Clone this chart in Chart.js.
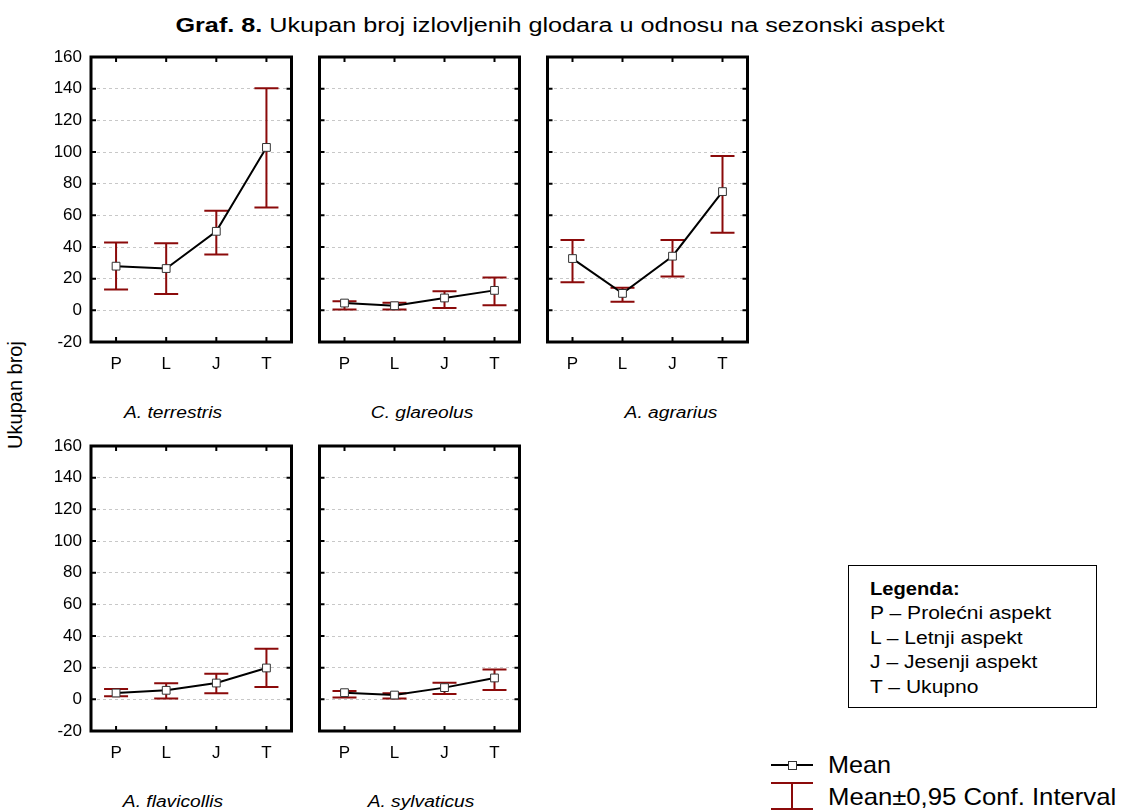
<!DOCTYPE html>
<html>
<head>
<meta charset="utf-8">
<script src="https://cdn.jsdelivr.net/npm/chart.js@4.4.0/dist/chart.umd.min.js"></script>
<style>
  body { margin: 0; background: #fff; width: 1121px; height: 811px; position: relative; overflow: hidden;
         font-family: "Liberation Sans", Arial, sans-serif; color: #000; }
  canvas { position: absolute; }
  .c { position: absolute; white-space: nowrap; transform: translate(-50%, -50%) scaleX(1.2); }
  .l { position: absolute; white-space: nowrap; transform-origin: left center; }
  .sp { font-style: italic; font-size: 16px; }
</style>
</head>
<body>

<div class="c" style="left:560px;top:25px;font-size:20px;transform:translate(-50%,-50%) scaleX(1.26)"><b>Graf. 8.</b> Ukupan broj izlovljenih glodara u odnosu na sezonski aspekt</div>
<div class="c" style="left:15px;top:395px;font-size:20px;transform:translate(-50%,-50%) rotate(-90deg)">Ukupan broj</div>

<div class="c sp" style="left:173px;top:413px">A. terrestris</div>
<div class="c sp" style="left:422px;top:413px">C. glareolus</div>
<div class="c sp" style="left:671px;top:413px">A. agrarius</div>
<div class="c sp" style="left:173px;top:802px">A. flavicollis</div>
<div class="c sp" style="left:421px;top:802px">A. sylvaticus</div>

<div style="position:absolute;left:848px;top:565px;width:247px;height:141px;border:1.5px solid #000"></div>
<div class="l" style="left:870px;top:589px;font-size:18px;font-weight:bold;transform:translateY(-50%) scaleX(1.12)">Legenda:</div>
<div class="l" style="left:870px;top:613px;font-size:18px;transform:translateY(-50%) scaleX(1.17)">P – Prolećni aspekt</div>
<div class="l" style="left:870px;top:638px;font-size:18px;transform:translateY(-50%) scaleX(1.17)">L – Letnji aspekt</div>
<div class="l" style="left:870px;top:662px;font-size:18px;transform:translateY(-50%) scaleX(1.17)">J – Jesenji aspekt</div>
<div class="l" style="left:870px;top:687px;font-size:18px;transform:translateY(-50%) scaleX(1.17)">T – Ukupno</div>

<div style="position:absolute;left:771px;top:764px;width:42px;height:2px;background:#000"></div>
<div style="position:absolute;left:788px;top:761px;width:7px;height:7px;background:#fff;border:1px solid #333"></div>
<div class="l" style="left:828px;top:765px;font-size:24px;transform:translateY(-50%) scaleX(1.05)">Mean</div>
<div style="position:absolute;left:771px;top:782px;width:42px;height:2px;background:#8b0a0a"></div>
<div style="position:absolute;left:791px;top:782px;width:2px;height:28px;background:#8b0a0a"></div>
<div style="position:absolute;left:771px;top:808px;width:42px;height:2px;background:#8b0a0a"></div>
<div class="l" style="left:828px;top:797px;font-size:24px;transform:translateY(-50%) scaleX(1.07)">Mean±0,95 Conf. Interval</div>

<script>
// categories (seasonal aspect)
const categories = ['P', 'L', 'J', 'T'];

// y axis
const yMin = -20;
const yMax = 160;
const yStep = 20;

// A. terrestris
const terrestrisMean = [27.9, 26.4, 49.9, 102.9];
const terrestrisLow  = [13.2, 10.3, 35.2, 65.0];
const terrestrisHigh = [42.8, 42.3, 62.9, 140.3];

// C. glareolus
const glareolusMean = [4.6, 2.9, 7.8, 12.6];
const glareolusLow  = [0.6, 0.6, 1.5, 3.2];
const glareolusHigh = [5.7, 4.8, 12.0, 20.8];

// A. agrarius
const agrariusMean = [32.7, 10.7, 34.2, 75.0];
const agrariusLow  = [17.8, 5.5, 21.4, 49.0];
const agrariusHigh = [44.4, 14.3, 44.4, 97.5];

// A. flavicollis
const flavicollisMean = [4.0, 5.7, 10.3, 19.8];
const flavicollisLow  = [1.9, 0.6, 3.8, 7.8];
const flavicollisHigh = [6.5, 10.1, 16.2, 32.0];

// A. sylvaticus
const sylvaticusMean = [4.2, 2.7, 7.4, 13.5];
const sylvaticusLow  = [1.1, 0.6, 3.4, 5.9];
const sylvaticusHigh = [5.3, 3.8, 10.5, 18.8];

const FONT = '"Liberation Sans", Arial, sans-serif';
const CI_COLOR = '#8b0a0a';

// panels: frame box in page pixels
const panels = [
  { mean: terrestrisMean,  low: terrestrisLow,  high: terrestrisHigh,  L: 91,  T: 57,  R: 292, B: 342, labels: true },
  { mean: glareolusMean,   low: glareolusLow,   high: glareolusHigh,   L: 319, T: 57,  R: 520, B: 342, labels: false },
  { mean: agrariusMean,    low: agrariusLow,    high: agrariusHigh,    L: 547, T: 57,  R: 748, B: 342, labels: false },
  { mean: flavicollisMean, low: flavicollisLow, high: flavicollisHigh, L: 91,  T: 446, R: 292, B: 731, labels: true },
  { mean: sylvaticusMean,  low: sylvaticusLow,  high: sylvaticusHigh,  L: 319, T: 446, R: 520, B: 731, labels: false }
];

function makePlugin(low, high) {
  return {
    id: 'frameAndBars',
    beforeDatasetsDraw(chart) {
      const ctx = chart.ctx;
      const x = chart.scales.x, y = chart.scales.y;
      ctx.save();
      ctx.strokeStyle = CI_COLOR;
      ctx.lineWidth = 2;
      for (let i = 0; i < low.length; i++) {
        const px = x.getPixelForValue(i);
        const y1 = y.getPixelForValue(low[i]);
        const y2 = y.getPixelForValue(high[i]);
        ctx.beginPath();
        ctx.moveTo(px, y1); ctx.lineTo(px, y2);
        ctx.moveTo(px - 12, y1); ctx.lineTo(px + 12, y1);
        ctx.moveTo(px - 12, y2); ctx.lineTo(px + 12, y2);
        ctx.stroke();
      }
      ctx.restore();
    },
    afterDraw(chart) {
      const ctx = chart.ctx;
      const a = chart.chartArea;
      const x = chart.scales.x, y = chart.scales.y;
      ctx.save();
      ctx.strokeStyle = '#000';
      ctx.lineWidth = 2;
      ctx.beginPath();
      for (let v = yMin + yStep; v < yMax; v += yStep) {
        const py = y.getPixelForValue(v);
        ctx.moveTo(a.left, py); ctx.lineTo(a.left + 5, py);
        ctx.moveTo(a.right - 5, py); ctx.lineTo(a.right, py);
      }
      for (let i = 0; i < categories.length; i++) {
        const px = x.getPixelForValue(i);
        ctx.moveTo(px, a.top); ctx.lineTo(px, a.top + 5);
        ctx.moveTo(px, a.bottom - 5); ctx.lineTo(px, a.bottom);
      }
      ctx.stroke();
      ctx.lineWidth = 3;
      ctx.strokeRect(a.left, a.top, a.right - a.left, a.bottom - a.top);
      ctx.restore();
    }
  };
}

panels.forEach(p => {
  const padL = p.labels ? 60 : 6;
  const padT = 14, padR = 6, padB = 34;
  const w = (p.R - p.L) + padL + padR;
  const h = (p.B - p.T) + padT + padB;
  const cv = document.createElement('canvas');
  cv.width = w; cv.height = h;
  cv.style.left = (p.L - padL) + 'px';
  cv.style.top = (p.T - padT) + 'px';
  cv.style.width = w + 'px'; cv.style.height = h + 'px';
  document.body.appendChild(cv);

  new Chart(cv, {
    type: 'line',
    data: {
      labels: categories,
      datasets: [{
        data: p.mean,
        borderColor: '#000',
        borderWidth: 2,
        tension: 0,
        pointStyle: 'rect',
        pointRadius: 5.5,
        pointBackgroundColor: '#fff',
        pointBorderColor: '#333',
        pointBorderWidth: 1
      }]
    },
    options: {
      responsive: false,
      animation: false,
      devicePixelRatio: 1,
      events: [],
      layout: { padding: { left: 0, top: padT, right: padR, bottom: 0 } },
      plugins: { legend: { display: false }, tooltip: { enabled: false } },
      scales: {
        x: {
          offset: true,
          grid: { display: false, drawTicks: false, tickLength: 0 },
          border: { display: false },
          ticks: { color: '#000', font: { family: FONT, size: 17 }, padding: 12 },
          afterFit(s) { s.height = padB; s.paddingLeft = 0; s.paddingRight = 0; }
        },
        y: {
          min: yMin, max: yMax,
          grid: { color: '#c8c8c8', lineWidth: 1, drawTicks: false, tickLength: 0 },
          border: { display: false, dash: [3, 3] },
          ticks: { display: p.labels, stepSize: yStep, color: '#000', font: { family: FONT, size: 17 }, padding: 9 },
          afterFit(s) { s.width = padL; s.paddingTop = 0; s.paddingBottom = 0; }
        }
      }
    },
    plugins: [makePlugin(p.low, p.high)]
  });
});
</script>
</body>
</html>
